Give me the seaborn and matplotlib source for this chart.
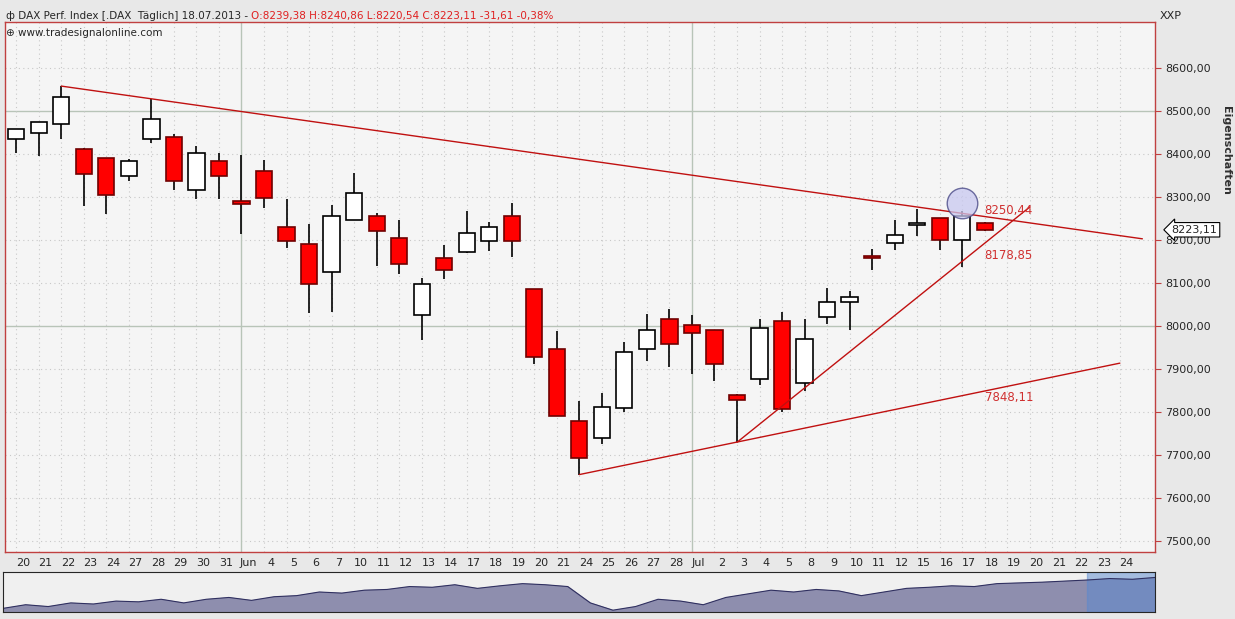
import numpy as np
import pandas as pd
import seaborn as sns
import matplotlib.pyplot as plt
from matplotlib.patches import Rectangle

# DATA
DAY_LABELS = ["20", "21", "22", "23", "24", "27", "28", "29", "30", "31",
              "Jun", "4", "5", "6", "7", "10", "11", "12", "13", "14",
              "17", "18", "19", "20", "21", "24", "25", "26", "27", "28",
              "Jul", "2", "3", "4", "5", "8", "9", "10", "11", "12",
              "15", "16", "17", "18", "19", "20", "21", "22", "23", "24"]
OPENS = [8435, 8447, 8468, 8410, 8389, 8347, 8433, 8438, 8315, 8384,
         8291, 8359, 8229, 8189, 8124, 8245, 8256, 8205, 8024, 8157,
         8171, 8196, 8255, 8085, 7945, 7778, 7740, 7809, 7945, 8015,
         8001, 7989, 7840, 7877, 8010, 7866, 8021, 8056, 8163, 8193,
         8235, 8250, 8199, 8239]
HIGHS = [8457, 8474, 8557, 8412, 8391, 8387, 8526, 8446, 8417, 8401,
         8397, 8385, 8295, 8236, 8280, 8356, 8261, 8246, 8110, 8188,
         8267, 8241, 8285, 8085, 7988, 7825, 7844, 7962, 8027, 8039,
         8025, 7989, 7842, 8016, 8031, 8016, 8087, 8081, 8178, 8245,
         8271, 8250, 8267, 8240]
LOWS = [8401, 8395, 8435, 8279, 8260, 8337, 8424, 8316, 8294, 8295,
        8214, 8274, 8181, 8030, 8032, 8245, 8139, 8121, 7967, 8109,
        8168, 8174, 8160, 7912, 7789, 7654, 7725, 7800, 7918, 7904,
        7888, 7872, 7729, 7863, 7800, 7849, 8005, 7991, 8130, 8176,
        8208, 8176, 8136, 8220]
CLOSES = [8457, 8473, 8531, 8352, 8305, 8382, 8480, 8336, 8401, 8349,
          8284, 8297, 8196, 8098, 8254, 8308, 8221, 8143, 8096, 8129,
          8215, 8229, 8196, 7928, 7789, 7692, 7810, 7940, 7991, 7958,
          7984, 7910, 7828, 7994, 7806, 7968, 8056, 8066, 8158, 8211,
          8236, 8199, 8254, 8223]

# trend lines: (x0, y0, x1, y1) in day index / price
TREND_LINES = [(2, 8557, 50.0, 8202), (25, 7654, 49.0, 7913), (32, 7729, 45.0, 8276)]
LEVEL_TEXTS = [("8250,44", 8267), ("8178,85", 8164), ("7848,11", 7834)]
Y_TICKS = [7500, 7600, 7700, 7800, 7900, 8000, 8100, 8200, 8300, 8400, 8500, 8600]

# navigator overview (fraction of panel height)
NAV_VALUES = [0.10, 0.20, 0.15, 0.25, 0.22, 0.30, 0.28, 0.35, 0.25, 0.35, 0.40, 0.32,
              0.42, 0.45, 0.55, 0.52, 0.60, 0.62, 0.70, 0.68, 0.75, 0.65, 0.72, 0.78,
              0.75, 0.70, 0.25, 0.05, 0.15, 0.35, 0.30, 0.20, 0.40, 0.50, 0.60, 0.55,
              0.62, 0.58, 0.45, 0.55, 0.65, 0.68, 0.72, 0.70, 0.78, 0.80, 0.82, 0.85,
              0.88, 0.92, 0.90, 0.95]

W, H = 1235, 619
sns.set_style("white")
fig = plt.figure(figsize=(W / 100, H / 100), dpi=100)
fig.patch.set_facecolor("#e8e8e8")


def frac(x0, y0, x1, y1):
    return [x0 / W, 1 - y1 / H, (x1 - x0) / W, (y1 - y0) / H]


ax = fig.add_axes(frac(5, 22, 1155, 552))
ax.set_facecolor("#f5f5f5")
n = len(OPENS)
idx = np.arange(n)

# grid
for p in Y_TICKS:
    solid = p in (8000, 8500)
    ax.axhline(p, color="#b8c4b8" if solid else "#c8c8c8", lw=1 if solid else 0.8,
               ls="-" if solid else (0, (1, 3)), zorder=0)
for i in range(len(DAY_LABELS)):
    solid = DAY_LABELS[i] in ("Jun", "Jul")
    ax.axvline(i, color="#b8c4b8" if solid else "#c8c8c8", lw=1 if solid else 0.8,
               ls="-" if solid else (0, (1, 3)), zorder=0)

# candles
for i in idx:
    o, h, l, c = OPENS[i], HIGHS[i], LOWS[i], CLOSES[i]
    ax.vlines(i, l, h, color="black", lw=1.2, zorder=2)
    up = c >= o
    body = max(abs(c - o), 3)
    ax.add_patch(Rectangle((i - 0.36, min(o, c)), 0.72, body,
                           facecolor="white" if up else "#ff0000",
                           edgecolor="black" if up else "#700000", lw=1.2, zorder=3))

for x0, y0, x1, y1 in TREND_LINES:
    sns.lineplot(x=[x0, x1], y=[y0, y1], ax=ax, color="#c01010", lw=1, zorder=4)
for txt, p in LEVEL_TEXTS:
    ax.text(43.0, p, txt, color="#d03030", fontsize=8.5, va="center", ha="left", zorder=5)

ax.plot([42], [8285], "o", ms=22, mfc="#c8c8f0", mec="#404080", alpha=0.75, zorder=5)

ax.set_xlim(-0.44, 50.56)
ax.set_ylim(7474, 8706)
ax.yaxis.tick_right()
ax.set_yticks(Y_TICKS)
ax.set_yticklabels([f"{p},00" for p in Y_TICKS], fontsize=8)
ax.set_xticks(np.arange(len(DAY_LABELS)) - 0.5, minor=True)
ax.set_xticks([])
ax.tick_params(axis="x", which="minor", length=4, direction="out", color="#606060")
for i, lab in enumerate(DAY_LABELS):
    ax.text(i + 0.3, -0.012, lab, transform=ax.get_xaxis_transform(),
            ha="center", va="top", fontsize=8)
ax.tick_params(axis="y", length=4, color="#c04040")
for s in ax.spines.values():
    s.set_color("#c04040")
    s.set_linewidth(1)

# last price tag
ax.annotate("8223,11", xy=(1.0, 8223), xycoords=("axes fraction", "data"),
            xytext=(12, 0), textcoords="offset points", fontsize=8, va="center",
            bbox=dict(boxstyle="larrow,pad=0.2", fc="white", ec="black", lw=0.8))

# header
head = fig.text(6 / W, 1 - 16 / H, "ф DAX Perf. Index [.DAX  Täglich] 18.07.2013 - ",
                fontsize=7.5, va="center")
fig.canvas.draw()
bb = head.get_window_extent()
fig.text(bb.x1 / W, 1 - 16 / H, "O:8239,38 H:8240,86 L:8220,54 C:8223,11 -31,61 -0,38%",
         fontsize=7.5, va="center", color="#e02020")
fig.text(6 / W, 1 - 33 / H, "⊕ www.tradesignalonline.com", fontsize=7.5, va="center")
fig.text(1160 / W, 1 - 16 / H, "XXP", fontsize=8, va="center")
fig.text(1226 / W, 1 - 150 / H, "Eigenschaften", fontsize=8, rotation=270,
         va="center", ha="center", weight="bold", color="#303030")

# navigator
nav = fig.add_axes(frac(3, 572, 1155, 612))
nav_df = pd.DataFrame({"t": np.arange(len(NAV_VALUES)), "v": NAV_VALUES})
sns.lineplot(data=nav_df, x="t", y="v", ax=nav, color="#303060", lw=0.8)
nav.fill_between(nav_df["t"], 0, nav_df["v"], color="#8e8eae")
nav.axvspan(len(NAV_VALUES) - 4, len(NAV_VALUES) - 1, color="#5a8ad0", alpha=0.5)
nav.set_xlim(0, len(NAV_VALUES) - 1)
nav.set_ylim(0, 1.1)
nav.set_facecolor("#f0f0f0")
nav.set_xticks([])
nav.set_yticks([])
nav.set_xlabel("")
nav.set_ylabel("")

fig.savefig("out.png", dpi=100, facecolor=fig.get_facecolor())
